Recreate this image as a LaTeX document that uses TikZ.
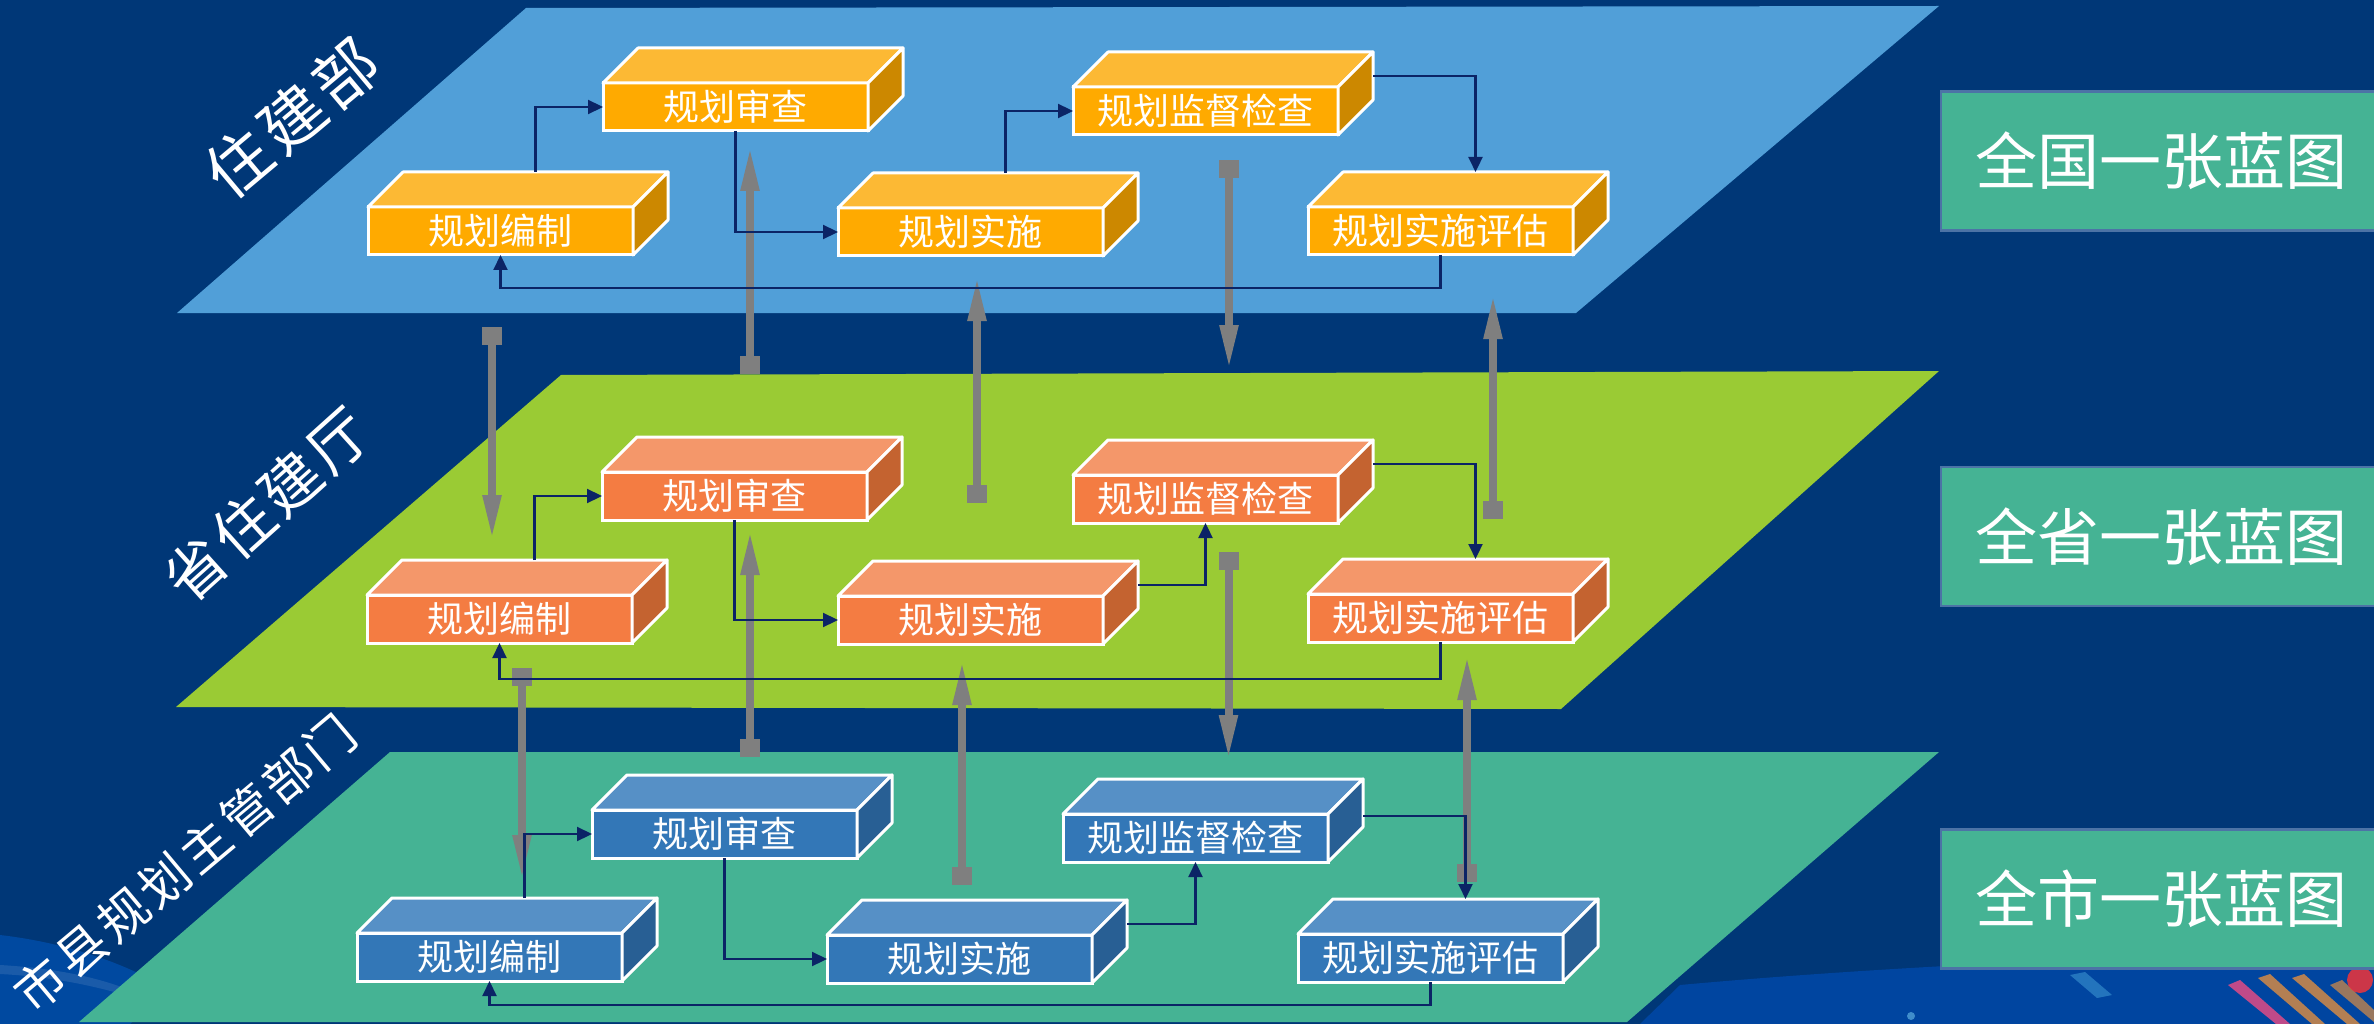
\documentclass[tikz,border=0pt]{standalone}
\usepackage{fontspec}
\newfontfamily\cjk{Noto Sans CJK SC}
\usetikzlibrary{arrows.meta,calc}
\definecolor{bgc}{HTML}{003777}
\definecolor{planeT}{HTML}{519FD8}
\definecolor{planeM}{HTML}{9ACB34}
\definecolor{planeB}{HTML}{45B394}
\definecolor{oF}{HTML}{FFAA00}
\definecolor{oT}{HTML}{FCB934}
\definecolor{oS}{HTML}{CC8800}
\definecolor{rF}{HTML}{F47C42}
\definecolor{rT}{HTML}{F4976A}
\definecolor{rS}{HTML}{C46330}
\definecolor{bF}{HTML}{3377B7}
\definecolor{bT}{HTML}{5690C6}
\definecolor{bS}{HTML}{285F94}
\definecolor{navyc}{HTML}{0B2466}
\definecolor{grayc}{HTML}{7F7F7F}
\definecolor{labfill}{HTML}{45B394}
\definecolor{labdraw}{HTML}{4C73A6}
\begin{document}
\begin{tikzpicture}[x=1pt,y=-1pt,
  front/.style={draw=white, line width=3pt, outer sep=0pt, inner sep=0pt,
    minimum width=265pt, minimum height=48pt, text=white,
    font=\cjk\fontsize{36}{36}\selectfont},
  conn/.style={draw=navyc, line width=2.2pt, -{Triangle[length=15pt,width=14pt]}},
  garrow/.style={draw=grayc, line width=8pt, -{Triangle[length=45pt,width=17pt]}},
  sq/.style={fill=grayc, minimum width=20pt, minimum height=18pt, inner sep=0pt, outer sep=0pt},
  lab/.style={fill=labfill, draw=labdraw, line width=2.5pt, minimum width=440pt,
    minimum height=139pt, text=white, font=\cjk\fontsize{62}{62}\selectfont},
  lvl/.style={text=white, inner sep=0pt}
]
\useasboundingbox (0,0) rectangle (2374,1024);
\fill[bgc] (0,0) rectangle (2374,1024);
% background decorations
\fill[blue!55!cyan, opacity=0.3] (0,935) .. controls (60,942) and (120,960) .. (170,990) -- (130,1024) -- (0,1024) -- cycle;
\fill[white, opacity=0.10] (0,965) .. controls (50,968) and (90,975) .. (130,990) -- (125,995) .. controls (80,982) and (40,976) .. (0,974) -- cycle;
\fill[blue!60!cyan, opacity=0.3] (1640,1024) -- (1680,985) .. controls (1900,965) and (2150,955) .. (2374,950) -- (2374,1024) -- cycle;
\fill[cyan!60!white, opacity=0.35] (2070,975) -- (2085,972) -- (2112,995) -- (2097,998) -- cycle;
\fill[red!70!magenta!70!white, opacity=0.75] (2228,985) -- (2240,980) -- (2290,1024) -- (2276,1024) -- cycle;
\fill[orange!80!white, opacity=0.7] (2258,978) -- (2270,974) -- (2325,1024) -- (2312,1024) -- cycle;
\fill[orange!80!white, opacity=0.7] (2292,978) -- (2304,974) -- (2360,1024) -- (2347,1024) -- cycle;
\fill[orange!80!white, opacity=0.6] (2330,985) -- (2342,980) -- (2374,1010) -- (2374,1022) -- cycle;
\fill[red!80!white, opacity=0.8] (2360,980) circle (13);
\fill[cyan!50!white, opacity=0.5] (1911,1016) circle (4);
% planes
\fill[planeT] (526,8) -- (1939,6) -- (1576,313) -- (177,313) -- cycle;
\fill[planeM] (561,375) -- (1939,371) -- (1561,709) -- (176,707) -- cycle;
\fill[planeB] (390,752) -- (1939,752) -- (1627,1022) -- (79,1022) -- cycle;
% level labels
\node[lvl, rotate=40, font=\cjk\fontsize{64}{64}\selectfont] (lvT) at (292,118) {住\hspace{6pt}建\hspace{6pt}部};
\node[lvl, rotate=42, font=\cjk\fontsize{60}{60}\selectfont] (lvM) at (267,505) {省\hspace{4pt}住\hspace{4pt}建\hspace{4pt}厅};
\node[lvl, rotate=40, font=\cjk\fontsize{50}{50}\selectfont] (lvB) at (185,863) {市\hspace{4pt}县\hspace{4pt}规\hspace{4pt}划\hspace{4pt}主\hspace{4pt}管\hspace{4pt}部\hspace{4pt}门};
% right labels
\node[lab] (L1) at (2161,161) {全国一张蓝图};
\node[lab] (L2) at (2161,536.5) {全省一张蓝图};
\node[lab] (L3) at (2161,899) {全市一张蓝图};
% gray inter-level arrows
\foreach \n/\x/\s/\t in {ga/492/336/540, gb/750/365/146, gc/977/493.5/276, gd/1229/169.5/370, ge/1493/510/294,
                         gf/522/676.5/880, gg/750/747.5/530, gh/962/876/660, gi/1228.5/560.5/760, gj/1467/872.5/655}{
  \node[sq] (\n) at (\x,\s) {};
  \coordinate (\n-t) at (\x,\t);
  \draw[garrow] (\n) -- (\n-t);
}
% cube boxes
\newcommand\cubebox[5]{%
  \node[front, fill=#5F, anchor=north west] (#1) at (#2,#3) {#4};
  \filldraw[fill=#5T, draw=white, line width=3pt, line join=round]
    (#1.north west) -- ++(35,-35) -- ($(#1.north east)+(35,-35)$) -- (#1.north east) -- cycle;
  \filldraw[fill=#5S, draw=white, line width=3pt, line join=round]
    (#1.north east) -- ++(35,-35) -- ($(#1.south east)+(35,-35)$) -- (#1.south east) -- cycle;
  \coordinate (#1-bt) at ($(#1.north)+(35,-35)$);
  \coordinate (#1-sm) at ($(#1.east)+(35,-35)$);
}
\cubebox{T1}{368}{207}{规划编制}{o}
\cubebox{T2}{603}{83}{规划审查}{o}
\cubebox{T3}{838}{208}{规划实施}{o}
\cubebox{T4}{1073}{87}{规划监督检查}{o}
\cubebox{T5}{1308}{207}{规划实施评估}{o}
\cubebox{M1}{367}{595}{规划编制}{r}
\cubebox{M2}{602}{472}{规划审查}{r}
\cubebox{M3}{838}{596}{规划实施}{r}
\cubebox{M4}{1073}{475}{规划监督检查}{r}
\cubebox{M5}{1308}{594}{规划实施评估}{r}
\cubebox{B1}{357}{933}{规划编制}{b}
\cubebox{B2}{592}{810}{规划审查}{b}
\cubebox{B3}{827}{935}{规划实施}{b}
\cubebox{B4}{1063}{814}{规划监督检查}{b}
\cubebox{B5}{1298}{934}{规划实施评估}{b}
% connectors top
\draw[conn] (T1-bt) |- (T2.west);
\draw[conn] (T2.south) |- (T3.west);
\draw[conn] (T3-bt) |- (T4.west);
\draw[conn] (T4-sm) -| (T5-bt);
\draw[conn] (T5.south) -- ++(0,33) -| (T1.south);
% connectors middle
\draw[conn] (M1-bt) |- (M2.west);
\draw[conn] (M2.south) |- (M3.west);
\draw[conn] (M3-sm) -| (M4.south);
\draw[conn] (M4-sm) -| (M5-bt);
\draw[conn] (M5.south) -- ++(0,37) -| (M1.south);
% connectors bottom
\coordinate (B4-out) at ($(B4.east)+(35,-22)$);
\draw[conn] (B1-bt) |- (B2.west);
\draw[conn] (B2.south) |- (B3.west);
\draw[conn] (B3-sm) -| (B4.south);
\draw[conn] (B4-out) -| (B5-bt);
\draw[conn] (B5.south) -- ++(0,23) -| (B1.south);
\end{tikzpicture}
\end{document}
